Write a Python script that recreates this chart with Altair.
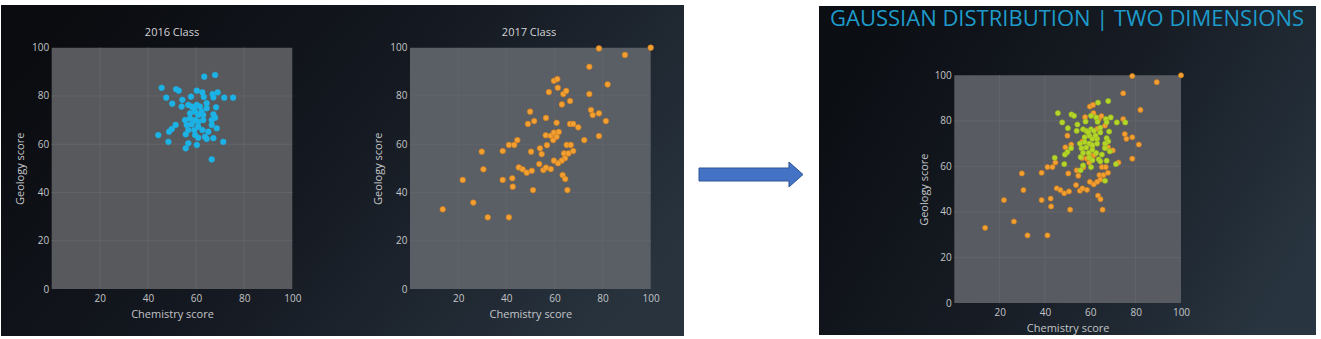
import altair as alt
import pandas as pd

# ---------------- data ----------------
chem_2016 = [63.4, 67.9, 45.7, 51.7, 52.8, 60.3, 62.6, 66.9, 69.0, 47.6, 50.1, 54.3, 57.9,
             63.2, 67.2, 71.7, 75.4, 54.0, 56.8, 58.2, 60.3, 61.6, 64.4, 64.4, 68.3, 59.6,
             57.5, 60.9, 63.0, 67.2, 67.9, 57.5, 59.6, 63.0, 66.5, 56.1, 58.2, 60.9, 66.5,
             51.5, 49.9, 48.8, 56.8, 59.3, 62.6, 44.3, 55.7, 59.6, 63.7, 67.2, 60.9, 48.5,
             71.3, 56.8, 60.3, 55.7, 66.5, 64.4, 59.0, 62.3, 60.9, 65.1, 68.6, 55.4]
geo_2016 = [88.0, 88.7, 83.4, 82.8, 82.2, 82.2, 81.5, 80.8, 81.5, 79.3, 76.8, 78.4, 79.7,
            79.6, 79.4, 79.3, 79.3, 75.6, 76.3, 75.6, 76.3, 75.6, 77.0, 74.9, 75.3, 73.5,
            72.8, 72.1, 72.1, 72.4, 71.0, 70.7, 70.0, 70.0, 70.0, 68.0, 68.3, 67.3, 68.0,
            68.0, 66.3, 65.2, 65.9, 65.9, 65.9, 63.8, 64.1, 63.8, 63.1, 62.5, 62.7, 61.0,
            61.0, 60.4, 59.7, 58.3, 53.7, 62.2, 75.0, 73.5, 69.3, 65.2, 66.6, 70.0]

chem_2017 = [13.6, 21.9, 26.3, 29.8, 30.5, 32.3, 38.5, 38.5, 41.1, 41.1, 43.3, 44.6, 42.5,
             42.7, 49.9, 49.0, 51.6, 51.1, 50.3, 45.2, 46.8, 48.5, 50.6, 54.0, 54.7, 53.7,
             55.4, 56.5, 58.5, 56.5, 56.9, 56.4, 58.5, 59.5, 59.8, 60.9, 61.8, 60.9, 57.7,
             59.8, 61.2, 61.4, 63.7, 64.9, 63.1, 66.5, 66.5, 67.8, 69.9, 65.1, 66.8, 64.0,
             65.8, 67.8, 64.4, 63.0, 61.5, 59.8, 63.4, 64.5, 65.4, 72.4, 74.5, 74.5, 75.2,
             75.9, 78.5, 81.4, 78.5, 82.1, 78.5, 89.3, 100.0]
geo_2017 = [33.0, 45.2, 35.8, 56.9, 49.6, 29.7, 57.2, 45.2, 29.7, 59.7, 59.7, 61.7, 45.9,
            42.4, 73.5, 68.4, 69.6, 41.0, 56.9, 50.4, 49.6, 48.2, 49.0, 58.3, 55.9, 51.8,
            49.3, 50.3, 49.7, 70.9, 59.6, 63.7, 63.5, 61.7, 64.8, 63.1, 65.1, 68.9, 81.6,
            86.3, 87.0, 83.4, 80.8, 82.1, 76.5, 77.9, 68.4, 68.4, 67.0, 59.7, 59.7, 56.2,
            56.2, 57.2, 54.2, 53.2, 52.1, 53.2, 47.2, 45.6, 41.0, 61.7, 92.1, 80.8, 74.2,
            72.1, 72.8, 69.6, 63.4, 84.8, 99.7, 97.0, 100.0]

y_ticks = [0, 20, 40, 60, 80, 100]
x_ticks = [20, 40, 60, 80, 100]
grid_values = [20, 40, 60, 80]
panel_titles = ["2016 Class", "2017 Class"]
main_title = "GAUSSIAN DISTRIBUTION | TWO DIMENSIONS"
x_title = "Chemistry score"
y_title = "Geology score"

df16 = pd.DataFrame({"chem": chem_2016, "geo": geo_2016})
df17 = pd.DataFrame({"chem": chem_2017, "geo": geo_2017})
grid_df = pd.DataFrame({"v": grid_values})
one = pd.DataFrame({"a": [0]})

FONT = "Open Sans"
LABEL = "#c3c5c8"
GRID = "#626469"
BLUE = "#1cb2e6"
ORANGE = "#f3a033"
ORANGE_EDGE = "#c9791c"
GREEN = "#b3d629"

W, H = 1321, 339


def panel(xr, yr, bg, series, tpx, tpy, size):
    sx = alt.Scale(domain=[0, 100], range=xr, nice=False, zero=False)
    sy = alt.Scale(domain=[0, 100], range=yr, nice=False, zero=False)
    common = dict(grid=False, domain=False, ticks=False, labelColor=LABEL,
                  labelFont=FONT, labelFontSize=10, titleColor=LABEL, titleFont=FONT,
                  titleFontSize=11, titleFontWeight="normal", zindex=2,
                  labelFlush=False, labelOverlap=False)
    ax = alt.Axis(orient="bottom", offset=-(H - yr[0]), values=x_ticks, title=x_title,
                  labelPadding=4, titlePadding=tpx, **common)
    ay = alt.Axis(orient="left", offset=-xr[0], values=y_ticks, title=y_title,
                  labelPadding=3, titlePadding=tpy, **common)
    plot_bg = alt.Chart(one).mark_rect(fill=bg).encode(
        x=alt.XDatum(0, type="quantitative", scale=sx, axis=ax), x2=alt.X2Datum(100),
        y=alt.YDatum(0, type="quantitative", scale=sy, axis=ay), y2=alt.Y2Datum(100))
    vgrid = alt.Chart(grid_df).mark_rule(color=GRID, strokeWidth=1).encode(
        x=alt.X("v:Q", scale=sx, axis=ax),
        y=alt.YDatum(0, type="quantitative", scale=sy, axis=ay), y2=alt.Y2Datum(100))
    hgrid = alt.Chart(grid_df).mark_rule(color=GRID, strokeWidth=1).encode(
        y=alt.Y("v:Q", scale=sy, axis=ay),
        x=alt.XDatum(0, type="quantitative", scale=sx, axis=ax), x2=alt.X2Datum(100))
    pts = []
    for df, fill, edge in series:
        pts.append(alt.Chart(df).mark_circle(fill=fill, stroke=edge, strokeWidth=0.6,
                                             opacity=1, size=size).encode(
            x=alt.X("chem:Q", scale=sx, axis=ax),
            y=alt.Y("geo:Q", scale=sy, axis=ay)))
    return alt.layer(plot_bg, vgrid, hgrid, *pts)


def box(x0, x1, y0, y1, stops):
    grad = alt.LinearGradient(
        gradient="linear",
        stops=[alt.GradientStop(color=c, offset=o) for o, c in stops],
        x1=0, x2=1, y1=0.3, y2=0.7)
    return alt.Chart(one).mark_rect(fill=grad).encode(
        x=alt.value(x0), x2=alt.value(x1), y=alt.value(y0), y2=alt.value(y1))


bg_left = box(1, 684, 5, 336, [(0, "#0a0c10"), (0.45, "#141820"), (1, "#28333e")])
bg_right = box(819, 1316, 6, 335, [(0, "#0b0e13"), (0.5, "#171c24"), (1, "#28343f")])

arrow_path = ("M-1,-0.125 L0.73,-0.125 L0.73,-0.24 L1,0 L0.73,0.24 "
              "L0.73,0.125 L-1,0.125 Z")
arrow = alt.Chart(one).mark_point(shape=arrow_path, filled=True, fill="#4472c4",
                                  stroke="#2f5597", strokeWidth=1, opacity=1,
                                  size=104 * 104).encode(
    x=alt.value(751), y=alt.value(174.5))

p1 = panel([51.7, 292.3], [289, 47.7], "#57595d", [(df16, BLUE, BLUE)], 5, 6, 32)
p2 = panel([410, 650.7], [289, 47.7], "#5a5f66", [(df17, ORANGE, ORANGE_EDGE)], 5, 6, 32)
p3 = panel([954.3, 1181], [303, 75.3], "#585b61",
           [(df17, ORANGE, ORANGE_EDGE), (df16, GREEN, "#98b81f")], 5, 5, 27)


def label(text, x, y, size, color, align="center"):
    return alt.Chart(one).mark_text(text=text, font=FONT, fontSize=size, color=color,
                                    align=align, baseline="middle").encode(
        x=alt.value(x), y=alt.value(y))


t1 = label(panel_titles[0], 172, 33, 11, "#d2d3d5")
t2 = label(panel_titles[1], 529, 33, 11, "#d2d3d5")
t3 = label(main_title, 830, 19, 22, "#1e9bcb", align="left")

chart = alt.layer(bg_left, bg_right, arrow, p1, p2, p3, t1, t2, t3).resolve_scale(
    x="independent", y="independent"
).properties(
    width=W, height=H, padding=0,
    autosize=alt.AutoSizeParams(type="none"), background="white"
).configure_view(stroke=None)

chart.save("out.html", embed_options={"renderer": "svg", "actions": False})
